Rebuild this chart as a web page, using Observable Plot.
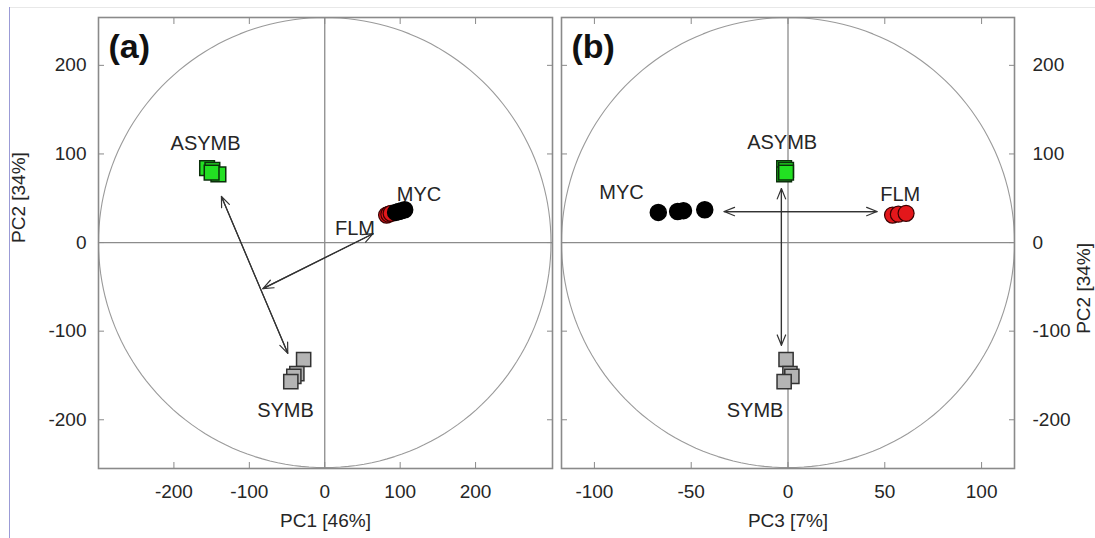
<!DOCTYPE html>
<html><head><meta charset="utf-8">
<script src="https://cdn.jsdelivr.net/npm/d3@7"></script>
<script src="https://cdn.jsdelivr.net/npm/@observablehq/plot@0.6"></script>
<style>
body{margin:0;background:#fff;font-family:"Liberation Sans",Arial,sans-serif;}
#wrap{position:relative;width:1095px;height:538px;overflow:hidden;background:#fff;}
#row{display:flex;position:absolute;left:0;top:0;}
.edge{position:absolute;left:9px;top:7px;bottom:0;border-left:1px solid #9b9bd6;}
.topline{position:absolute;left:9px;right:0;top:7px;border-top:1px solid #e8e8e8;}
</style></head><body>
<div id="wrap"><div class="topline"></div><div class="edge"></div><div id="row"></div></div>
<script>
// ---- tick values ----
const ticksPC1 = [-200, -100, 0, 100, 200];
const ticksPC3 = [-100, -50, 0, 50, 100];
const ticksPC2 = [-200, -100, 0, 100, 200];

// ---- sample scores ----
const asymbPC1 = [-156, -149, -141, -150];
const asymbPC2 = [84, 82, 77, 79];
const asymbPC3 = [-2, -1, -2, -1];
const symbPC1 = [-28, -37, -41, -45];
const symbPC2 = [-132, -148, -151, -157];
const symbPC3 = [-1, 1, 2, -2];
const flmPC1 = [82, 85, 88];
const flmPC2 = [31, 32, 33];
const flmPC3 = [54, 57, 61];
const mycPC1 = [94, 98, 102, 106];
const mycPC2 = [34, 35, 36, 37];
const mycPC3 = [-67, -57, -54, -43];

// ---- group labels ----
const labelNames = ["ASYMB", "SYMB", "FLM", "MYC"];
const labelPC1 = [-158, -52, 40, 125];
const labelPC2a = [112, -190, 16, 54];
const labelPC3 = [-3, -17, 58, -86];
const labelPC2b = [113, -190, 54, 56];

// ---- double-headed arrows ----
const arrowA_x1 = [-137, -82], arrowA_y1 = [52, -52], arrowA_x2 = [-49, 64], arrowA_y2 = [-125, 10];
const arrowB_x1 = [-33, -3.4], arrowB_y1 = [35, 61], arrowB_x2 = [46, -3.4], arrowB_y2 = [35, -116];

// ---- correlation ellipse radii (data units) ----
const radiusPC1 = 300, radiusPC3 = 117, radiusPC2 = 254;

const zip = (xs, ys) => xs.map((x, i) => ({x, y: ys[i]}));
const ellipse = (rx, ry) => d3.range(0, 361, 2).map(a => ({x: rx * Math.cos(a * Math.PI / 180), y: ry * Math.sin(a * Math.PI / 180)}));
const arrowsBoth = (x1, y1, x2, y2) => {
  const out = [];
  x1.forEach((_, i) => {
    out.push({x1: x1[i], y1: y1[i], x2: x2[i], y2: y2[i]});
    out.push({x1: x2[i], y1: y2[i], x2: x1[i], y2: y1[i]});
  });
  return out;
};
const fmt = d => String(d);
const TXT = "#262626";

function panel({width, marginLeft, marginRight, xDomain, xTicks, pcx, pc2, labX, labY, arrows, rx, tag, yAnchor, xTitle}) {
  const marks = [
    Plot.line(ellipse(rx, radiusPC2), {x: "x", y: "y", stroke: "#9a9a9a", strokeWidth: 1.1}),
    Plot.ruleX([0], {stroke: "#8c8c8c", strokeWidth: 1.3}),
    Plot.ruleY([0], {stroke: "#8c8c8c", strokeWidth: 1.3}),
    Plot.arrow(arrows, {x1: "x1", y1: "y1", x2: "x2", y2: "y2", stroke: "#333", strokeWidth: 1.2, headLength: 14, headAngle: 44}),
    Plot.dot(zip(pcx.asymb, asymbPC2), {x: "x", y: "y", symbol: "square", r: 8.3, fill: "#22e022", stroke: "#0b2f0b", strokeWidth: 1.5}),
    Plot.dot(zip(pcx.symb, symbPC2), {x: "x", y: "y", symbol: "square", r: 8, fill: "#b4b4b4", stroke: "#333", strokeWidth: 1.5}),
    Plot.dot(zip(pcx.flm, flmPC2), {x: "x", y: "y", r: 8, fill: "#e3171b", stroke: "#3a0000", strokeWidth: 1.2}),
    Plot.dot(zip(pcx.myc, mycPC2), {x: "x", y: "y", r: 8, fill: "#000", stroke: "#000"}),
    Plot.text(labelNames, {x: (d, i) => labX[i], y: (d, i) => labY[i], text: d => d, fontSize: 20, fill: TXT}),
    Plot.text([tag], {frameAnchor: "top-left", dx: 10, dy: 30, textAnchor: "start", lineAnchor: "middle", fontSize: 34, fontWeight: "bold", fill: "#111"}),
    Plot.frame({stroke: "#8a8a8a", strokeWidth: 1.6}),
    // tick labels
    Plot.axisX(xTicks, {anchor: "bottom", tickSize: 0, tickPadding: 16, tickFormat: fmt, fontSize: 19, fill: TXT, label: null}),
    Plot.axisY(ticksPC2, {anchor: yAnchor, tickSize: 0, tickPadding: yAnchor === "left" ? 12 : 18, tickFormat: fmt, fontSize: 19, fill: TXT, label: null}),
    // inner tick marks on all sides
    Plot.axisX(xTicks, {anchor: "bottom", tickSize: -6, tickFormat: () => "", stroke: "#8a8a8a", label: null}),
    Plot.axisX(xTicks, {anchor: "top", tickSize: -6, tickFormat: () => "", stroke: "#8a8a8a", label: null}),
    Plot.axisY(ticksPC2, {anchor: "left", tickSize: -6, tickFormat: () => "", stroke: "#8a8a8a", label: null}),
    Plot.axisY(ticksPC2, {anchor: "right", tickSize: -6, tickFormat: () => "", stroke: "#8a8a8a", label: null}),
    // axis titles
    Plot.text([xTitle], {frameAnchor: "bottom", dy: 52, lineAnchor: "middle", fontSize: 19, fill: TXT}),
    Plot.text(["PC2 [34%]"], {frameAnchor: yAnchor, dx: yAnchor === "left" ? -80 : 69, rotate: -90, lineAnchor: "middle", fontSize: 19, fill: TXT})
  ];
  return Plot.plot({
    width, height: 538,
    marginLeft, marginRight, marginTop: 17, marginBottom: 70,
    x: {domain: xDomain, axis: null},
    y: {domain: [-255, 254], axis: null},
    style: {fontFamily: '"Liberation Sans", Arial, sans-serif', background: "transparent", overflow: "visible"},
    marks
  });
}

const row = document.getElementById("row");
row.appendChild(panel({
  width: 557, marginLeft: 98, marginRight: 5, xDomain: [-300, 302], xTicks: ticksPC1,
  pcx: {asymb: asymbPC1, symb: symbPC1, flm: flmPC1, myc: mycPC1},
  labX: labelPC1, labY: labelPC2a,
  arrows: arrowsBoth(arrowA_x1, arrowA_y1, arrowA_x2, arrowA_y2),
  rx: radiusPC1, tag: "(a)", yAnchor: "left", xTitle: "PC1 [46%]"
}));
row.appendChild(panel({
  width: 538, marginLeft: 4, marginRight: 81, xDomain: [-117, 117], xTicks: ticksPC3,
  pcx: {asymb: asymbPC3, symb: symbPC3, flm: flmPC3, myc: mycPC3},
  labX: labelPC3, labY: labelPC2b,
  arrows: arrowsBoth(arrowB_x1, arrowB_y1, arrowB_x2, arrowB_y2),
  rx: radiusPC3, tag: "(b)", yAnchor: "right", xTitle: "PC3 [7%]"
}));
</script>
</body></html>
